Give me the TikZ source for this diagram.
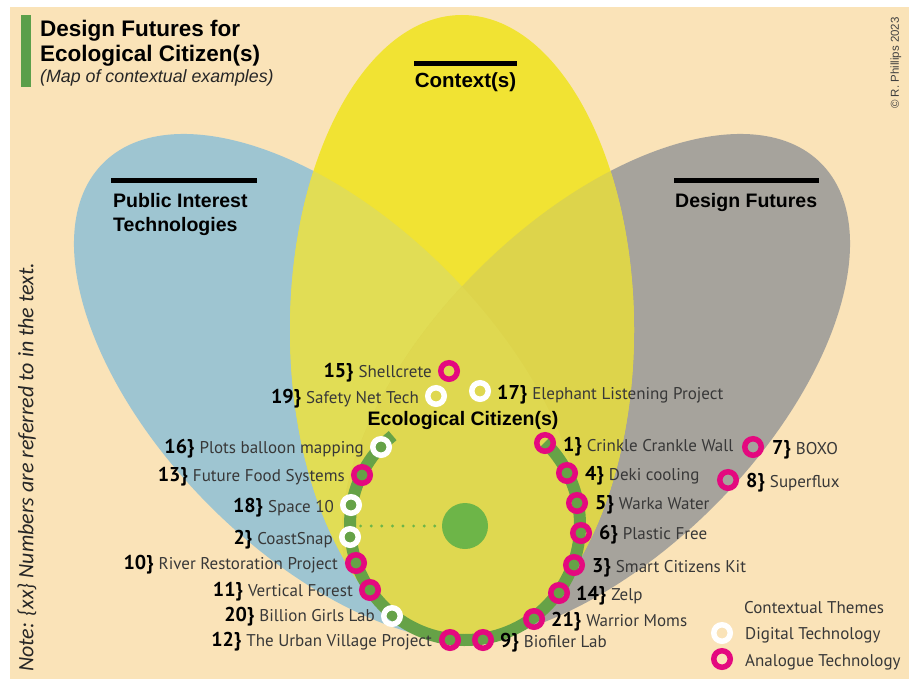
\documentclass[tikz,border=0pt]{standalone}
\usepackage{fontspec}
\setmainfont{PT Sans}
\newfontfamily\headfont{Liberation Sans}
\newfontfamily\notefont{Carlito}
\usetikzlibrary{calc}

\definecolor{paper}{HTML}{FAE3B8}
\definecolor{petalblue}{HTML}{9EC5D1}
\definecolor{petalgray}{HTML}{A6A39C}
\definecolor{petalyellow}{HTML}{F1E333}
\definecolor{ovblue}{HTML}{E1DD55}
\definecolor{ovgray}{HTML}{DDD44B}
\definecolor{ovboth}{HTML}{DFD850}
\definecolor{trackgreen}{HTML}{66A247}
\definecolor{hubgreen}{HTML}{6DB548}
\definecolor{titlegreen}{HTML}{5B9F4A}
\definecolor{analogue}{HTML}{E4097F}
\definecolor{labelgray}{HTML}{383838}

% bold item number followed by the closing brace
\newcommand\itemno[1]{{\fontsize{20}{20}\selectfont\bfseries\color{black}#1\}}\hspace{5pt}}

\tikzset{
  headtext/.style={font=\headfont\fontsize{19.5}{20}\selectfont\bfseries, text=black, inner sep=0},
  headbar/.style={fill=black},
  bluepetal/.style={shift={(328,388)}, rotate=-45},
  graypetal/.style={shift={(596,388)}, rotate=45},
  digi/.style={circle, draw=white, line width=5.5pt, minimum size=16.5pt, inner sep=0},
  ana/.style={circle, draw=analogue, line width=5.5pt, minimum size=16.5pt, inner sep=0},
  lbl/.style={font=\fontsize{17}{17}\selectfont, text=labelgray, inner sep=0},
  ll/.style={lbl, anchor=base east},
  rl/.style={lbl, anchor=base west},
  track/.style={draw=trackgreen, line width=12pt},
  dotline/.style={draw=hubgreen, line width=3.2pt, line cap=round, dash pattern=on 0pt off 10.6pt},
}

\begin{document}
\begin{tikzpicture}[x=1pt, y=-1pt]
\useasboundingbox (0,0) rectangle (909,679);
\fill[white] (0,0) rectangle (909,679);
\fill[paper] (10,7) rectangle (909,679);

% left petal: Public Interest Technologies
\begin{scope}
  \clip (0,0) rectangle (462,679);
  \fill[petalblue, bluepetal] (0,0) ellipse [x radius=318, y radius=167];
\end{scope}
% right petal: Design Futures
\begin{scope}
  \clip (462,0) rectangle (909,679);
  \fill[petalgray, graypetal] (0,0) ellipse [x radius=318, y radius=167];
\end{scope}
% upright petal: Context(s)
\fill[petalyellow] (462,330) ellipse [x radius=172, y radius=315];
% overlaps inside the upright petal
\begin{scope}
  \clip (462,330) ellipse [x radius=172, y radius=315];
  \fill[ovblue, bluepetal] (0,0) ellipse [x radius=318, y radius=167];
  \fill[ovgray, graypetal] (0,0) ellipse [x radius=318, y radius=167];
  \begin{scope}
    \clip[bluepetal] (0,0) ellipse [x radius=318, y radius=167];
    \fill[ovboth, graypetal] (0,0) ellipse [x radius=318, y radius=167];
  \end{scope}
\end{scope}

% title block
\fill[titlegreen] (21,15) rectangle (31,87);
\node[anchor=base west, inner sep=0, font=\headfont\fontsize{22.5}{24}\selectfont\bfseries] (title1) at (40,37) {Design Futures for};
\node[anchor=base west, inner sep=0, font=\headfont\fontsize{22.5}{24}\selectfont\bfseries] (title2) at (40,62) {Ecological Citizen(s)};
\node[anchor=base west, inner sep=0, font=\headfont\fontsize{17.8}{18}\selectfont\itshape, text=black!85] (subtitle) at (40,83) {(Map of contextual examples)};

% petal headings
\fill[headbar] (414,61) rectangle (517,66);
\node[headtext, anchor=base, font=\headfont\fontsize{20.5}{21}\selectfont\bfseries] (ctx) at (465.5,88) {Context(s)};
\fill[headbar] (111,178) rectangle (257,183);
\node[headtext, anchor=base west] (pit1) at (113,207) {Public Interest};
\node[headtext, anchor=base west] (pit2) at (113,231) {Technologies};
\fill[headbar] (674,178) rectangle (819,183);
\node[headtext, anchor=base west] (df) at (675,207) {Design Futures};
\node[headtext, anchor=base] (eco) at (463,425) {Ecological Citizen(s)};

% side notes
\node[rotate=90, anchor=west, inner sep=0, font=\notefont\itshape\fontsize{22}{22}\selectfont, text=black!85] (note) at (27,672) {Note: \{xx\} Numbers are referred to in the text.};
\node[rotate=90, anchor=east, inner sep=0, font=\headfont\fontsize{11.5}{12}\selectfont, text=black!75] (copy) at (896,17) {\textcopyright{} R. Phillips 2023};

% citizen track and hub
\path (465,525) ++(231:115) coordinate (tstart);
\draw[track] (tstart) arc [start angle=231, end angle=-46, radius=115];
\node[circle, fill=hubgreen, minimum size=46pt, inner sep=0] (hub) at (465,526) {};
\coordinate (dotend) at (360,526);
\draw[dotline] ([xshift=-7pt]hub.west) -- (dotend);

% markers
\node[ana]  (m15) at (449,371) {};
\node[digi] (m19) at (436,396) {};
\node[digi] (m17) at (480,391) {};
\node[digi] (m16) at (381,447) {};
\node[ana]  (m13) at (362,475) {};
\node[digi] (m18) at (351,505) {};
\node[digi] (m2)  at (350,537) {};
\node[ana]  (m10) at (356,563) {};
\node[ana]  (m11) at (370,590) {};
\node[digi] (m20) at (392,616) {};
\node[ana]  (m12) at (450,640) {};
\node[ana]  (m9)  at (483,640) {};
\node[ana]  (m21) at (534,619) {};
\node[ana]  (m14) at (559,593) {};
\node[ana]  (m3)  at (574,565) {};
\node[ana]  (m6)  at (581,533) {};
\node[ana]  (m5)  at (577,503) {};
\node[ana]  (m4)  at (567,473) {};
\node[ana]  (m1)  at (545,443) {};
\node[ana]  (m7)  at (753,447) {};
\node[ana]  (m8)  at (728,480) {};

% labels on the left
\node[ll] (l15) at ($(m15)+(-17,6)$) {\itemno{15}Shellcrete};
\node[ll] (l19) at ($(m19)+(-17,7)$) {\itemno{19}Safety Net Tech};
\node[ll] (l16) at ($(m16)+(-17,6)$) {\itemno{16}Plots balloon mapping};
\node[ll] (l13) at ($(m13)+(-17,6)$) {\itemno{13}Future Food Systems};
\node[ll] (l18) at ($(m18)+(-17,7)$) {\itemno{18}Space 10};
\node[ll] (l2)  at ($(m2)+(-17,7)$)  {\itemno{2}CoastSnap};
\node[ll] (l10) at ($(m10)+(-18,6)$) {\itemno{10}River Restoration Project};
\node[ll] (l11) at ($(m11)+(-17,6)$) {\itemno{11}Vertical Forest};
\node[ll] (l20) at ($(m20)+(-17,5)$) {\itemno{20}Billion Girls Lab};
\node[ll] (l12) at ($(m12)+(-18,6)$) {\itemno{12}The Urban Village Project};

% labels on the right
\node[rl] (l17) at ($(m17)+(17,8)$) {\itemno{17}Elephant Listening Project};
\node[rl] (l9)  at ($(m9)+(17,7)$)  {\itemno{9}Biofiler Lab};
\node[rl] (l21) at ($(m21)+(17,7)$) {\itemno{21}Warrior Moms};
\node[rl] (l14) at ($(m14)+(17,7)$) {\itemno{14}Zelp};
\node[rl] (l3)  at ($(m3)+(18,7)$)  {\itemno{3}Smart Citizens Kit};
\node[rl] (l6)  at ($(m6)+(18,6)$)  {\itemno{6}Plastic Free};
\node[rl] (l5)  at ($(m5)+(18,6)$)  {\itemno{5}Warka Water};
\node[rl] (l4)  at ($(m4)+(18,7)$)  {\itemno{4}Deki cooling};
\node[rl] (l1)  at ($(m1)+(18,8)$)  {\itemno{1}Crinkle Crankle Wall};
\node[rl] (l7)  at ($(m7)+(19,7)$)  {\itemno{7}BOXO};
\node[rl] (l8)  at ($(m8)+(18,7)$)  {\itemno{8}Superflux};

% legend
\node[lbl, anchor=base west] (lgtitle) at (744,613) {Contextual Themes};
\node[digi] (lgd) at (722,633) {};
\node[lbl, anchor=base west] (lgdtext) at (745,639) {Digital Technology};
\node[ana] (lga) at (722,659) {};
\node[lbl, anchor=base west] (lgatext) at (745,666) {Analogue Technology};
\end{tikzpicture}
\end{document}
